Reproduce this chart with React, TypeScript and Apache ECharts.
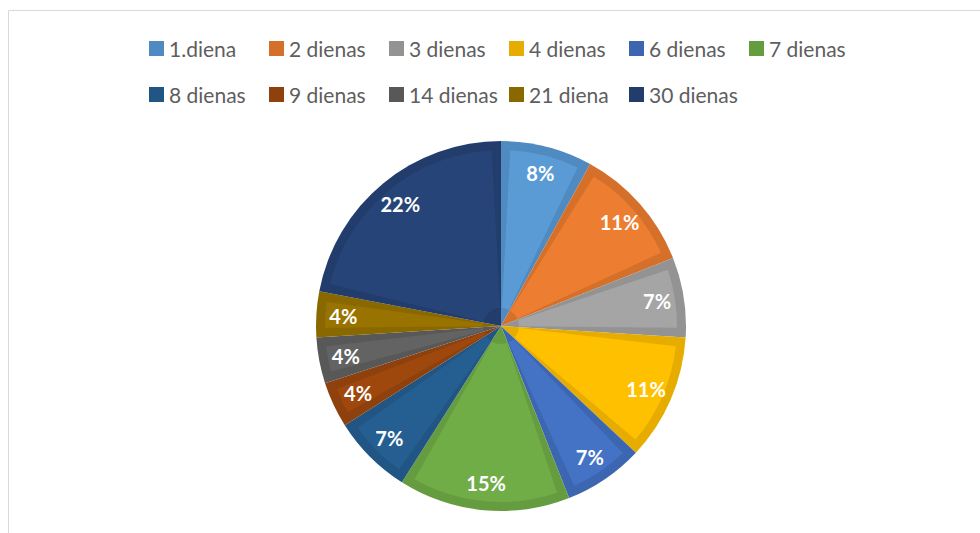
import React, { useEffect, useRef } from "react";
import * as echarts from "echarts";

const categories = [
  "1.diena", "2 dienas", "3 dienas", "4 dienas", "6 dienas", "7 dienas",
  "8 dienas", "9 dienas", "14 dienas", "21 diena", "30 dienas",
];
const values = [8, 11, 7, 11, 7, 15, 7, 4, 4, 4, 22];

const lightColors = [
  "#5B9BD5", "#ED7D31", "#A5A5A5", "#FFC000", "#4472C4", "#70AD47",
  "#255E91", "#9E480E", "#636363", "#997300", "#264478",
];
const darkColors = [
  "#4F8AC0", "#D5702B", "#939393", "#E6AD00", "#3D66B0", "#659C40",
  "#215583", "#8E410D", "#585858", "#8A6800", "#223D6C",
];

export default function App() {
  const ref = useRef<HTMLDivElement>(null);
  useEffect(() => {
    if (!ref.current) return;
    const chart = echarts.init(ref.current, null, { renderer: "svg" });
    const center = [501, 326];
    const legends = categories.map((name, i) => {
      const row = i < 6 ? 0 : 1;
      const col = i < 6 ? i : i - 6;
      return {
        data: [name],
        left: 149 + col * 120,
        top: row === 0 ? 38 : 84,
        padding: 0,
        icon: "rect",
        itemWidth: 15,
        itemHeight: 15,
        selectedMode: false,
        textStyle: {
          color: "#5E5E5E",
          fontSize: 21,
          fontFamily: "Lato, 'Noto Sans', sans-serif",
          padding: [0, 0, 0, 0],
        },
      };
    });
    const makeData = (colors: string[]) =>
      categories.map((name, i) => ({
        name,
        value: values[i],
        itemStyle: { color: colors[i] },
      }));
    chart.setOption({
      animation: false,
      legend: legends,
      graphic: [
        {
          type: "rect",
          shape: { x: 8.5, y: 10.5, width: 1200, height: 800 },
          style: { fill: "none", stroke: "#D9D9D9", lineWidth: 1 },
          silent: true,
        },
      ],
      series: [
        {
          type: "pie",
          center,
          radius: [0, 185],
          startAngle: 90,
          clockwise: true,
          silent: true,
          label: { show: false },
          labelLine: { show: false },
          data: makeData(darkColors),
        },
        {
          type: "pie",
          center,
          radius: [18, 176],
          startAngle: 90,
          clockwise: true,
          padAngle: 6,
          silent: true,
          label: { show: false },
          labelLine: { show: false },
          data: makeData(lightColors),
        },
        {
          type: "pie",
          center,
          radius: [130, 180],
          startAngle: 90,
          clockwise: true,
          silent: true,
          itemStyle: { color: "rgba(0,0,0,0)" },
          label: {
            show: true,
            position: "inside",
            formatter: "{d}%",
            color: "#FFFFFF",
            fontSize: 20,
            fontWeight: "bold",
            fontFamily: "Lato, 'Noto Sans', sans-serif",
          },
          labelLine: { show: false },
          data: categories.map((name, i) => ({ name, value: values[i] })),
        },
      ],
    });
    return () => chart.dispose();
  }, []);
  return (
    <div
      style={{
        position: "fixed",
        left: 0,
        top: 0,
        width: 980,
        height: 533,
        overflow: "hidden",
        background: "#FFFFFF",
      }}
    >
      <div ref={ref} style={{ width: 980, height: 533 }} />
    </div>
  );
}
